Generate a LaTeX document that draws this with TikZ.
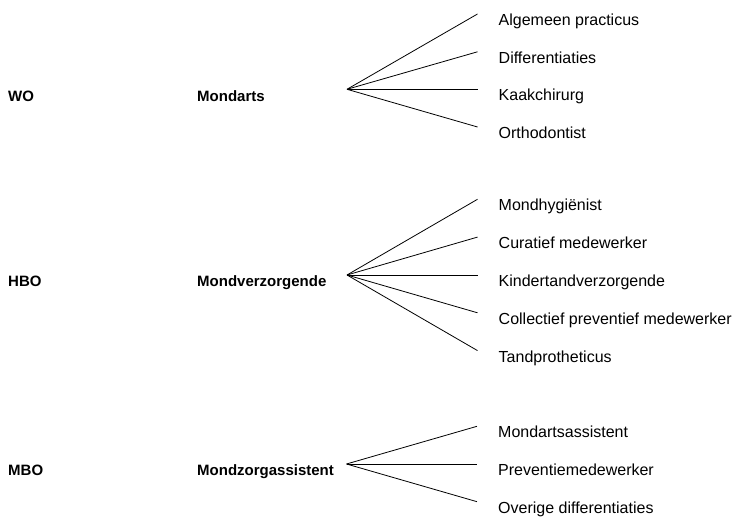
\documentclass[tikz,border=0pt]{standalone}
\usepackage{fontspec}
\setmainfont{Liberation Sans}
\usetikzlibrary{positioning}

\begin{document}
\begin{tikzpicture}[x=1pt, y=1pt, font=\fontsize{16}{19}\selectfont,
    level/.style={inner sep=0, anchor=base west, font=\fontsize{15}{18}\selectfont\bfseries},
    job/.style={inner sep=0},
    fan/.style={line width=0.8pt}]

\useasboundingbox (0,0) rectangle (739,518);

% levels and professions
\node[level] (wo) at (8,416.7) {WO};
\node[level] (mondarts) at (197,416.7) {Mondarts};
\node[level] (hbo) at (8,231) {HBO};
\node[level] (mondverzorgende) at (197,231) {Mondverzorgende};
\node[level] (mbo) at (8,42) {MBO};
\node[level] (mondzorgassistent) at (197,42) {Mondzorgassistent};

% split points
\coordinate (mondarts-split) at (347,428.7);
\coordinate (mondverzorgende-split) at (347,243);
\coordinate (mondzorgassistent-split) at (346.5,54);

% line ends
\coordinate (algemeen-end) at (477.5,504);
\coordinate (differentiaties-end) at (477.5,466.2);
\coordinate (kaakchirurg-end) at (477.5,428.7);
\coordinate (orthodontist-end) at (477.5,391);

\coordinate (mondhygienist-end) at (477.5,318.7);
\coordinate (curatief-end) at (477.5,280.9);
\coordinate (kinder-end) at (477.5,243);
\coordinate (collectief-end) at (477.5,205.2);
\coordinate (tandprotheticus-end) at (477.5,167.4);

\coordinate (assistent-end) at (477,91.7);
\coordinate (preventie-end) at (477,54);
\coordinate (overige-end) at (477,16.3);

% sub professions
\node[job, right=21pt of algemeen-end, anchor=base west, yshift=-11.5pt] (algemeen) {Algemeen practicus};
\node[job, right=21pt of differentiaties-end, anchor=base west, yshift=-11.5pt] (differentiaties) {Differentiaties};
\node[job, right=21pt of kaakchirurg-end, anchor=base west, yshift=-11.5pt] (kaakchirurg) {Kaakchirurg};
\node[job, right=21pt of orthodontist-end, anchor=base west, yshift=-11.5pt] (orthodontist) {Orthodontist};

\node[job, right=21pt of mondhygienist-end, anchor=base west, yshift=-11.5pt] (mondhygienist) {Mondhygiënist};
\node[job, right=21pt of curatief-end, anchor=base west, yshift=-11.5pt] (curatief) {Curatief medewerker};
\node[job, right=21pt of kinder-end, anchor=base west, yshift=-11.5pt] (kinder) {Kindertandverzorgende};
\node[job, right=21pt of collectief-end, anchor=base west, yshift=-11.5pt] (collectief) {Collectief preventief medewerker};
\node[job, right=21pt of tandprotheticus-end, anchor=base west, yshift=-11.5pt] (tandprotheticus) {Tandprotheticus};

\node[job, right=21pt of assistent-end, anchor=base west, yshift=-11.5pt] (assistent) {Mondartsassistent};
\node[job, right=21pt of preventie-end, anchor=base west, yshift=-11.5pt] (preventie) {Preventiemedewerker};
\node[job, right=21pt of overige-end, anchor=base west, yshift=-11.5pt] (overige) {Overige differentiaties};

\draw[fan] (mondarts-split) -- (algemeen-end);
\draw[fan] (mondarts-split) -- (differentiaties-end);
\draw[fan] (mondarts-split) -- (kaakchirurg-end);
\draw[fan] (mondarts-split) -- (orthodontist-end);

\draw[fan] (mondverzorgende-split) -- (mondhygienist-end);
\draw[fan] (mondverzorgende-split) -- (curatief-end);
\draw[fan] (mondverzorgende-split) -- (kinder-end);
\draw[fan] (mondverzorgende-split) -- (collectief-end);
\draw[fan] (mondverzorgende-split) -- (tandprotheticus-end);

\draw[fan] (mondzorgassistent-split) -- (assistent-end);
\draw[fan] (mondzorgassistent-split) -- (preventie-end);
\draw[fan] (mondzorgassistent-split) -- (overige-end);

\end{tikzpicture}
\end{document}
